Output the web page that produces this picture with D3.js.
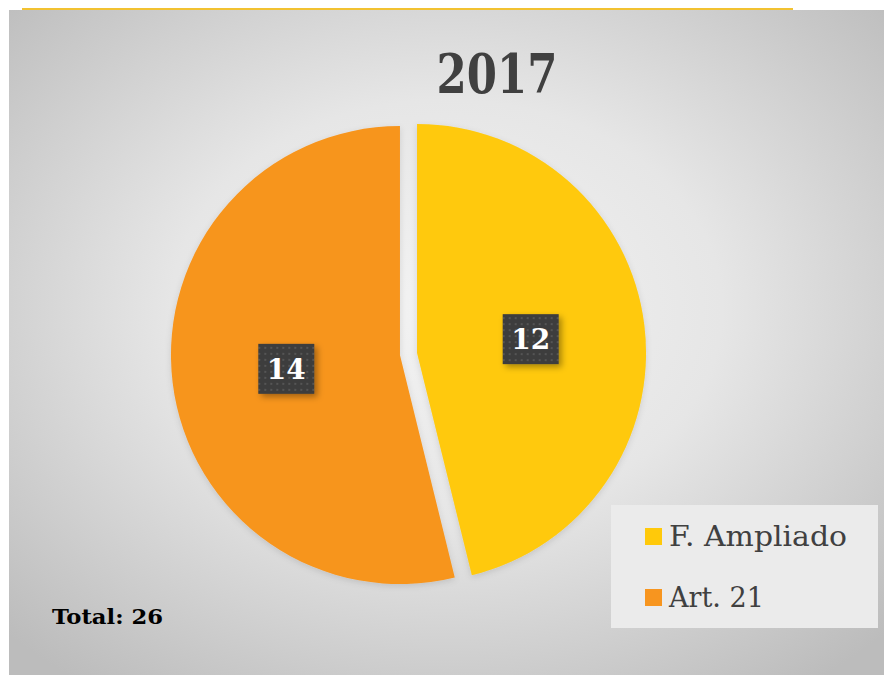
<!DOCTYPE html>
<html lang="en">
<head>
    <meta charset="UTF-8">
    <title>2017</title>
    <script src="https://d3js.org/d3.v7.min.js"></script>
    <style>
        body { margin: 0; background: #fff; }
        svg { display: block; }
    </style>
</head>
<body>
    <svg id="chart" width="884" height="675"></svg>
    <script>
        // Chart data
        const categories = ["F. Ampliado", "Art. 21"];
        const values = [12, 14];
        const colors = ["#FFC90A", "#F7951F"];
        const title = "2017";
        const totalLabel = "Total: 26";

        const width = 884, height = 675;
        const svg = d3.select("#chart");
        const defs = svg.append("defs");

        // panel background gradient
        const grad = defs.append("radialGradient")
            .attr("id", "bg")
            .attr("cx", "50%").attr("cy", "45%").attr("r", "70%");
        grad.append("stop").attr("offset", "0%").attr("stop-color", "#f3f3f3");
        grad.append("stop").attr("offset", "45%").attr("stop-color", "#e6e6e6");
        grad.append("stop").attr("offset", "100%").attr("stop-color", "#bcbcbc");

        // dotted pattern for label boxes
        const pat = defs.append("pattern")
            .attr("id", "dots")
            .attr("patternUnits", "userSpaceOnUse")
            .attr("width", 6).attr("height", 6);
        pat.append("rect").attr("width", 6).attr("height", 6).attr("fill", "#3d3d3d");
        pat.append("rect").attr("x", 2).attr("y", 2).attr("width", 2).attr("height", 2).attr("fill", "#555");

        const shadow = defs.append("filter").attr("id", "shadow")
            .attr("x", "-30%").attr("y", "-30%").attr("width", "160%").attr("height", "160%");
        shadow.append("feDropShadow")
            .attr("dx", 3).attr("dy", 3).attr("stdDeviation", 3)
            .attr("flood-color", "#000").attr("flood-opacity", 0.35);

        const sliceShadow = defs.append("filter").attr("id", "sliceShadow")
            .attr("x", "-10%").attr("y", "-10%").attr("width", "120%").attr("height", "120%");
        sliceShadow.append("feDropShadow")
            .attr("dx", 0).attr("dy", 2).attr("stdDeviation", 3)
            .attr("flood-color", "#000").attr("flood-opacity", 0.12);

        // panel
        svg.append("rect")
            .attr("x", 9).attr("y", 10)
            .attr("width", width - 9).attr("height", height - 10)
            .attr("fill", "url(#bg)");

        // yellow top rule
        svg.append("line")
            .attr("x1", 22).attr("x2", 793)
            .attr("y1", 9).attr("y2", 9)
            .attr("stroke", "#F2C231").attr("stroke-width", 2);

        // title
        svg.append("text")
            .attr("x", 497).attr("y", 93)
            .attr("text-anchor", "middle")
            .attr("font-family", "DejaVu Serif")
            .attr("font-weight", "bold")
            .attr("font-size", 55)
            .attr("textLength", 121)
            .attr("lengthAdjust", "spacingAndGlyphs")
            .attr("fill", "#404040")
            .text(title);

        // pie
        const cx = 408.5, cy = 354, radius = 229, explode = 8.6;
        const pie = d3.pie().sort(null).value(d => d)(values);
        const arc = d3.arc().innerRadius(0).outerRadius(radius);

        const g = svg.append("g").attr("transform", `translate(${cx},${cy})`);

        const slices = g.selectAll("g.slice")
            .data(pie)
            .enter()
            .append("g")
            .attr("class", "slice")
            .attr("transform", d => {
                const a = (d.startAngle + d.endAngle) / 2;
                return `translate(${Math.sin(a) * explode},${-Math.cos(a) * explode})`;
            });

        slices.append("path")
            .attr("d", arc)
            .attr("fill", (d, i) => colors[i])
            .attr("filter", "url(#sliceShadow)");

        // value labels
        const bw = 56, bh = 50;
        const labels = slices.append("g")
            .attr("transform", d => {
                const a = (d.startAngle + d.endAngle) / 2;
                const r = radius * 0.5;
                return `translate(${Math.sin(a) * r},${-Math.cos(a) * r})`;
            });
        labels.append("rect")
            .attr("x", -bw / 2).attr("y", -bh / 2)
            .attr("width", bw).attr("height", bh)
            .attr("fill", "url(#dots)")
            .attr("filter", "url(#shadow)");
        labels.append("text")
            .attr("text-anchor", "middle")
            .attr("y", 10)
            .attr("font-family", "DejaVu Serif")
            .attr("font-weight", "bold")
            .attr("font-size", 28)
            .attr("fill", "#fff")
            .text(d => d.data);

        // legend
        const legend = svg.append("g");
        legend.append("rect")
            .attr("x", 611).attr("y", 505)
            .attr("width", 267).attr("height", 123)
            .attr("fill", "#ebebeb");

        const items = legend.selectAll("g.item")
            .data(categories)
            .enter()
            .append("g")
            .attr("transform", (d, i) => `translate(645,${528 + i * 61})`);
        items.append("rect")
            .attr("width", 17).attr("height", 17)
            .attr("fill", (d, i) => colors[i]);
        items.append("text")
            .attr("x", 24).attr("y", 18)
            .attr("font-family", "DejaVu Serif")
            .attr("font-size", 27)
            .attr("fill", "#404040")
            .attr("textLength", (d, i) => i === 0 ? 178 : 95)
            .attr("lengthAdjust", "spacingAndGlyphs")
            .text(d => d);

        // total
        svg.append("text")
            .attr("x", 52).attr("y", 624)
            .attr("font-family", "DejaVu Serif")
            .attr("font-weight", "bold")
            .attr("font-size", 21)
            .attr("textLength", 111)
            .attr("lengthAdjust", "spacingAndGlyphs")
            .attr("fill", "#000")
            .text(totalLabel);
    </script>
</body>
</html>
